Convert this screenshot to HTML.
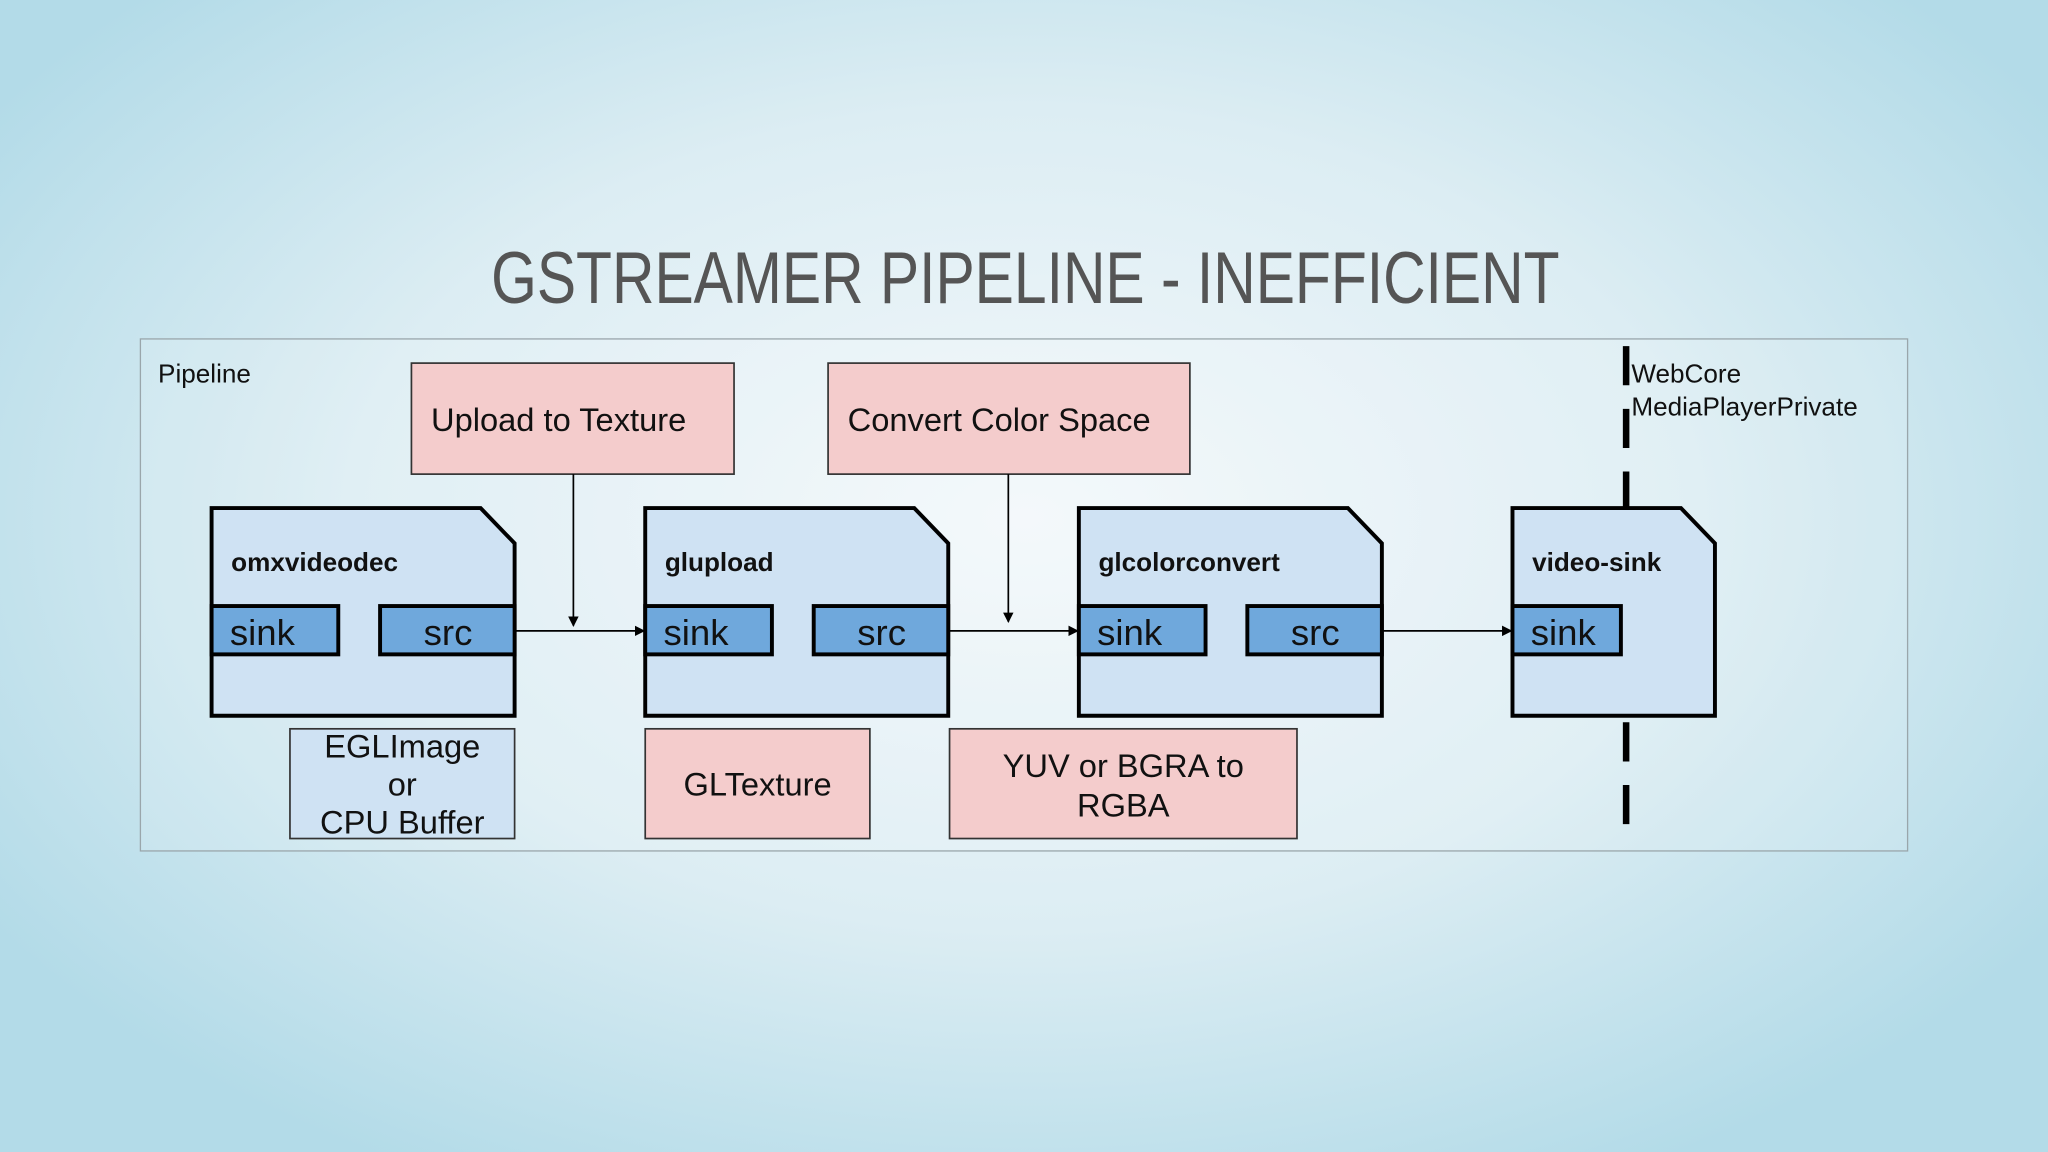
<!DOCTYPE html>
<html><head><meta charset="utf-8"><style>
html,body{margin:0;padding:0;width:2048px;height:1152px;overflow:hidden;}
body{background:radial-gradient(ellipse 60% 65% at 50% 45%, #f3f8fb 0%, #dcedf3 55%, #b3dbe8 100%);}
svg{display:block}
text{font-family:"Liberation Sans",sans-serif;fill:#111}
</style></head><body>
<svg width="2048" height="1152" viewBox="0 0 1568 882" xmlns="http://www.w3.org/2000/svg">
<defs><marker id="a" markerWidth="8" markerHeight="8" refX="7" refY="4" orient="auto" markerUnits="userSpaceOnUse"><path d="M0,0 L8,4 L0,8 z" fill="#000"/></marker></defs>
<text x="785" y="232" text-anchor="middle" font-size="56" style="fill:#555;font-weight:normal" textLength="818" lengthAdjust="spacingAndGlyphs">GSTREAMER PIPELINE - INEFFICIENT</text>
<rect x="107.5" y="259.5" width="1353" height="392" fill="rgba(255,255,255,0.12)" stroke="#9aa6ab" stroke-width="1"/>
<text x="121" y="293" font-size="20">Pipeline</text>
<line x1="1245" y1="265" x2="1245" y2="633" stroke="#000" stroke-width="5" stroke-dasharray="30,18"/>
<text x="1249" y="293" font-size="20">WebCore</text>
<text x="1249" y="318" font-size="20">MediaPlayerPrivate</text>
<rect x="315" y="278" width="247" height="85" fill="#f4cccc" stroke="#333" stroke-width="1.3"/>
<text x="330" y="330" font-size="25">Upload to Texture</text>
<rect x="634" y="278" width="277" height="85" fill="#f4cccc" stroke="#333" stroke-width="1.3"/>
<text x="649" y="330" font-size="25">Convert Color Space</text>
<line x1="439" y1="363" x2="439" y2="479" stroke="#000" stroke-width="1.3" marker-end="url(#a)"/>
<line x1="772" y1="363" x2="772" y2="476" stroke="#000" stroke-width="1.3" marker-end="url(#a)"/>
<g stroke="#000" stroke-width="3">
<path d="M162,389 H368 L394,416 V548 H162 Z" fill="#cfe2f3"/>
<path d="M494,389 H700 L726,416 V548 H494 Z" fill="#cfe2f3"/>
<path d="M826,389 H1032 L1058,416 V548 H826 Z" fill="#cfe2f3"/>
<path d="M1158,389 H1287 L1313,416 V548 H1158 Z" fill="#cfe2f3"/>
<rect x="162" y="464" width="97" height="37" fill="#6fa8dc"/>
<rect x="291" y="464" width="103" height="37" fill="#6fa8dc"/>
<rect x="494" y="464" width="97" height="37" fill="#6fa8dc"/>
<rect x="623" y="464" width="103" height="37" fill="#6fa8dc"/>
<rect x="826" y="464" width="97" height="37" fill="#6fa8dc"/>
<rect x="955" y="464" width="103" height="37" fill="#6fa8dc"/>
<rect x="1158" y="464" width="83" height="37" fill="#6fa8dc"/>
</g>
<g font-size="20" font-weight="bold">
<text x="177" y="437">omxvideodec</text>
<text x="509" y="437">glupload</text>
<text x="841" y="437">glcolorconvert</text>
<text x="1173" y="437">video-sink</text>
</g>
<g font-size="28">
<text x="176" y="494">sink</text><text x="343" y="494" text-anchor="middle">src</text>
<text x="508" y="494">sink</text><text x="675" y="494" text-anchor="middle">src</text>
<text x="840" y="494">sink</text><text x="1007" y="494" text-anchor="middle">src</text>
<text x="1172" y="494">sink</text>
</g>
<g stroke="#000" stroke-width="1.3">
<line x1="394" y1="483" x2="493" y2="483" marker-end="url(#a)"/>
<line x1="726" y1="483" x2="825" y2="483" marker-end="url(#a)"/>
<line x1="1058" y1="483" x2="1157" y2="483" marker-end="url(#a)"/>
</g>
<rect x="222" y="558" width="172" height="84" fill="#cfe2f3" stroke="#333" stroke-width="1.3"/>
<g font-size="25" text-anchor="middle">
<text x="308" y="580">EGLImage</text><text x="308" y="609">or</text><text x="308" y="638">CPU Buffer</text>
</g>
<rect x="494" y="558" width="172" height="84" fill="#f4cccc" stroke="#333" stroke-width="1.3"/>
<text x="580" y="609" font-size="25" text-anchor="middle">GLTexture</text>
<rect x="727" y="558" width="266" height="84" fill="#f4cccc" stroke="#333" stroke-width="1.3"/>
<text x="860" y="595" font-size="25" text-anchor="middle">YUV or BGRA to</text>
<text x="860" y="625" font-size="25" text-anchor="middle">RGBA</text>
</svg>
</body></html>
